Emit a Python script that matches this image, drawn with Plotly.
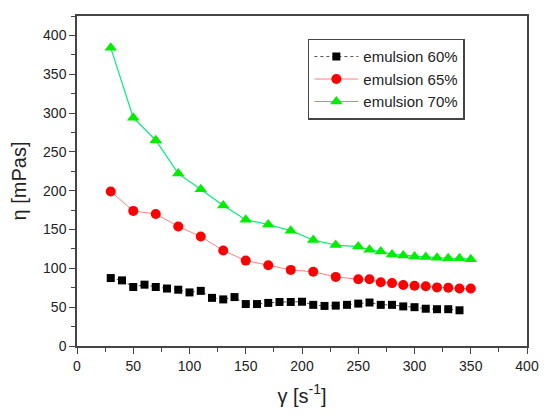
import plotly.graph_objects as go

FONT = "Liberation Sans, Arial, sans-serif"

# shear rate (x) for each series
x_60 = [30, 40, 50, 60, 70, 80, 90, 100, 110, 120, 130, 140, 150, 160, 170,
        180, 190, 200, 210, 220, 230, 240, 250, 260, 270, 280, 290, 300, 310,
        320, 330, 340]
eta_60 = [87.5, 84.5, 76, 79, 76, 74, 72.5, 69, 71, 62, 60, 63, 54, 54, 55.5,
          56.7, 56.7, 57, 53, 51.6, 52, 53, 54.6, 56, 53, 53, 51, 50, 48,
          47.4, 47.4, 46]

x_65 = [30, 50, 70, 90, 110, 130, 150, 170, 190, 210, 230, 250, 260, 270,
        280, 290, 300, 310, 320, 330, 340, 350]
eta_65 = [199, 174, 170, 154, 141, 123, 110, 104, 98, 95.6, 89, 86, 86, 82,
          81, 78.5, 77.6, 77, 75.5, 75, 74, 74]

x_70 = [30, 50, 70, 90, 110, 130, 150, 170, 190, 210, 230, 250, 260, 270,
        280, 290, 300, 310, 320, 330, 340, 350]
eta_70 = [384, 294, 265, 222, 202, 181, 162.6, 156.5, 148.5, 136.5, 130, 128,
          124, 121.6, 118, 116.7, 115.4, 114.6, 113.7, 113, 112.9, 111.6]

x_ticks = [0, 50, 100, 150, 200, 250, 300, 350, 400]
y_ticks = [0, 50, 100, 150, 200, 250, 300, 350, 400]

fig = go.Figure()
fig.add_trace(go.Scatter(
    x=x_60, y=eta_60, name="emulsion 60%", mode="lines+markers",
    line=dict(color="#555555", width=1, dash="dot"),
    marker=dict(symbol="square", size=8, color="black"),
))
fig.add_trace(go.Scatter(
    x=x_65, y=eta_65, name="emulsion 65%", mode="lines+markers",
    line=dict(color="#ff8080", width=1),
    marker=dict(symbol="circle", size=10, color="red"),
))
fig.add_trace(go.Scatter(
    x=x_70, y=eta_70, name="emulsion 70%", mode="lines+markers",
    line=dict(color="#00ee77", width=1.2),
    marker=dict(symbol="triangle-up", size=11, color="#00ee00"),
))

axis_common = dict(
    showline=True, linecolor="#444444", linewidth=1.5, mirror=True,
    ticks="outside", ticklen=6, tickwidth=1.2, tickcolor="#444444",
    showgrid=False, zeroline=False,
    tickfont=dict(family=FONT, size=14, color="#222222"),
    minor=dict(ticks="outside", ticklen=4, tickwidth=1, tickcolor="#444444",
               dtick=25, showgrid=False),
)

# page body has an 8px margin, so the figure is a bit smaller than the window
fig.update_layout(
    width=542, height=408,
    paper_bgcolor="white", plot_bgcolor="white",
    margin=dict(l=69, r=23, t=6, b=70),
    font=dict(family=FONT, color="#222222"),
    xaxis=dict(axis_common, range=[0, 400], tickvals=x_ticks,
               title=dict(text="γ [s<sup>-1</sup>]", font=dict(size=20), standoff=16)),
    yaxis=dict(axis_common, range=[0, 425], tickvals=y_ticks,
               title=dict(text="η [mPas]", font=dict(size=20), standoff=12)),
    legend=dict(
        x=0.513, y=0.931, xanchor="left", yanchor="top",
        bgcolor="white", bordercolor="#444444", borderwidth=1.5,
        font=dict(family=FONT, size=15, color="#222222"),
        itemwidth=44, tracegroupgap=0,
    ),
    showlegend=True,
)

fig.write_html("out.html")
